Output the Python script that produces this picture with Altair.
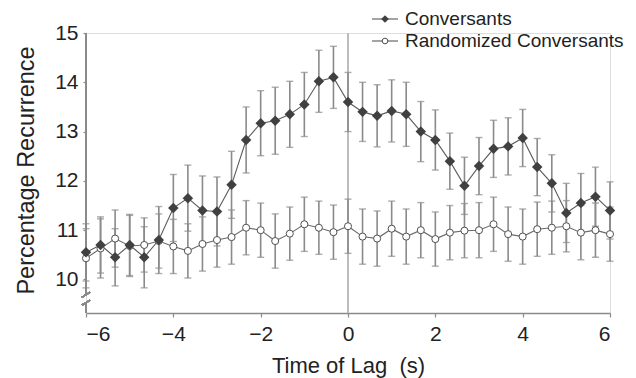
import altair as alt
import pandas as pd

# ---- data ----
lag = [-6.0, -5.667, -5.333, -5.0, -4.667, -4.333, -4.0, -3.667, -3.333, -3.0,
       -2.667, -2.333, -2.0, -1.667, -1.333, -1.0, -0.667, -0.333, 0.0, 0.333,
       0.667, 1.0, 1.333, 1.667, 2.0, 2.333, 2.667, 3.0, 3.333, 3.667, 4.0,
       4.333, 4.667, 5.0, 5.333, 5.667, 6.0]
conv = [10.55, 10.70, 10.45, 10.70, 10.45, 10.80, 11.45, 11.65, 11.40, 11.38,
        11.92, 12.83, 13.17, 13.22, 13.35, 13.55, 14.02, 14.10, 13.60, 13.40,
        13.32, 13.42, 13.35, 13.00, 12.83, 12.40, 11.90, 12.30, 12.65, 12.70,
        12.87, 12.28, 11.95, 11.35, 11.55, 11.68, 11.40]
conv_err = [0.58, 0.57, 0.58, 0.62, 0.62, 0.68, 0.68, 0.67, 0.70, 0.70,
            0.68, 0.67, 0.66, 0.68, 0.67, 0.65, 0.63, 0.63, 0.60, 0.60,
            0.63, 0.63, 0.65, 0.61, 0.61, 0.57, 0.58, 0.58, 0.58, 0.58,
            0.58, 0.58, 0.58, 0.60, 0.60, 0.60, 0.58]
rand = [10.43, 10.63, 10.83, 10.68, 10.70, 10.78, 10.67, 10.58, 10.72, 10.80,
        10.86, 11.05, 11.00, 10.78, 10.93, 11.12, 11.05, 10.96, 11.08, 10.87,
        10.83, 11.03, 10.87, 11.00, 10.82, 10.95, 10.99, 11.00, 11.12, 10.92,
        10.87, 11.02, 11.05, 11.08, 10.95, 11.00, 10.92]
rand_err = [0.60, 0.60, 0.58, 0.62, 0.55, 0.55, 0.55, 0.55, 0.55, 0.55,
            0.55, 0.55, 0.55, 0.55, 0.54, 0.55, 0.54, 0.55, 0.55, 0.56,
            0.56, 0.56, 0.56, 0.56, 0.55, 0.55, 0.55, 0.56, 0.55, 0.55,
            0.56, 0.55, 0.54, 0.52, 0.55, 0.55, 0.55]

x_ticks = [-6, -4, -2, 0, 2, 4, 6]
y_ticks = [10, 11, 12, 13, 14, 15]
y_min, y_max = 9.32, 15
legend_labels = ["Conversants", "Randomized Conversants"]

FONT = "Liberation Sans"
AX = "#8a8a8a"
TXT = "#222222"
BAR = "#8a8a8a"

df_c = pd.DataFrame({"lag": lag, "val": conv,
                     "lo": [m - e for m, e in zip(conv, conv_err)],
                     "hi": [m + e for m, e in zip(conv, conv_err)]})
df_r = pd.DataFrame({"lag": lag, "val": rand,
                     "lo": [m - e for m, e in zip(rand, rand_err)],
                     "hi": [m + e for m, e in zip(rand, rand_err)]})

xs = alt.Scale(domain=[-6, 6], nice=False, zero=False)
ys = alt.Scale(domain=[y_min, y_max], nice=False, zero=False)

X = alt.X("lag:Q", scale=xs, axis=alt.Axis(
    values=x_ticks, title="Time of Lag\u00a0 (s)", grid=False,
    labelFontSize=21, labelFont=FONT, labelColor=TXT, labelPadding=6,
    tickSize=4, tickColor=AX, domainColor=AX, domainWidth=1.5, tickWidth=1.2,
    titleFontSize=22, titleFont=FONT, titleColor=TXT, titleFontWeight="normal",
    titleY=59, titleBaseline="alphabetic"))
Y = alt.Y("val:Q", scale=ys, axis=alt.Axis(
    values=y_ticks, title="Percentage Recurrence", grid=False, domain=False,
    labelFontSize=21, labelFont=FONT, labelColor=TXT, labelPadding=5,
    tickSize=3, tickColor=AX, tickWidth=1.2,
    titleFontSize=23.5, titleFont=FONT, titleColor=TXT, titleFontWeight="normal",
    titleX=-53, titleY=137, titleAngle=270, titleAlign="center",
    titleBaseline="alphabetic"))

base_c = alt.Chart(df_c)
base_r = alt.Chart(df_r)

zero_line = base_c.mark_rule(color="#bdbdbd", strokeWidth=2).encode(
    x=alt.datum(0))

# y axis line with a break
axis_top = base_c.mark_rule(color=AX, strokeWidth=1.5).encode(
    x=alt.value(0), y=alt.datum(9.72), y2=alt.datum(y_max))
axis_bot = base_c.mark_rule(color=AX, strokeWidth=1.5).encode(
    x=alt.value(0), y=alt.datum(y_min), y2=alt.datum(9.50))
slash1 = base_c.mark_rule(color=AX, strokeWidth=1.3).encode(
    x=alt.value(-4), x2=alt.value(4), y=alt.datum(9.64), y2=alt.datum(9.74))
slash2 = base_c.mark_rule(color=AX, strokeWidth=1.3).encode(
    x=alt.value(-4), x2=alt.value(4), y=alt.datum(9.48), y2=alt.datum(9.58))


def errbars(base):
    r = base.mark_rule(color=BAR, strokeWidth=1.6).encode(
        x=X, y=alt.Y("lo:Q", scale=ys), y2="hi:Q")
    t1 = base.mark_tick(color=BAR, orient="horizontal", size=7, thickness=1.4).encode(
        x=X, y=alt.Y("lo:Q", scale=ys))
    t2 = base.mark_tick(color=BAR, orient="horizontal", size=7, thickness=1.4).encode(
        x=X, y=alt.Y("hi:Q", scale=ys))
    return [r, t1, t2]


line_c = base_c.mark_line(color="#5a5a5a", strokeWidth=1.1).encode(x=X, y=Y)
line_r = base_r.mark_line(color="#6a6a6a", strokeWidth=1.1).encode(x=X, y=Y)
pts_c = base_c.mark_point(shape="diamond", filled=True, color="#404040",
                          size=110, opacity=1).encode(x=X, y=Y)
pts_r = base_r.mark_point(shape="circle", filled=True, fill="white",
                          stroke="#505050", strokeWidth=1, size=50,
                          opacity=1).encode(x=X, y=Y)

# custom legend (pixel positions relative to plot area)
leg1 = alt.Chart(pd.DataFrame({"label": [legend_labels[0]]}))
leg2 = alt.Chart(pd.DataFrame({"label": [legend_labels[1]]}))
legend_layers = []
for lg, py, kind in [(leg1, -14, "c"), (leg2, 8, "r")]:
    legend_layers.append(lg.mark_rule(color="#5a5a5a", strokeWidth=1.1).encode(
        x=alt.value(286), x2=alt.value(312), y=alt.value(py)))
    if kind == "c":
        legend_layers.append(lg.mark_point(shape="diamond", filled=True,
                                           color="#404040", size=60, opacity=1).encode(
            x=alt.value(299), y=alt.value(py)))
    else:
        legend_layers.append(lg.mark_point(shape="circle", filled=True, fill="white",
                                           stroke="#505050", strokeWidth=1, size=32,
                                           opacity=1).encode(
            x=alt.value(299), y=alt.value(py)))
    legend_layers.append(lg.mark_text(align="left", baseline="middle", font=FONT,
                                      fontSize=19, color=TXT).encode(
        x=alt.value(319), y=alt.value(py), text="label:N"))

chart = alt.layer(
    line_r, zero_line, axis_top, axis_bot, slash1, slash2,
    *errbars(base_r), *errbars(base_c),
    line_c, pts_r, pts_c,
    *legend_layers,
).properties(
    width=524, height=280,
    autosize=alt.AutoSizeParams(type="none"),
    padding={"left": 78, "top": 25, "right": 18, "bottom": 65},
).configure_view(stroke=None).configure(font=FONT)

chart.save("out.html", embed_options={"renderer": "svg", "actions": False})
